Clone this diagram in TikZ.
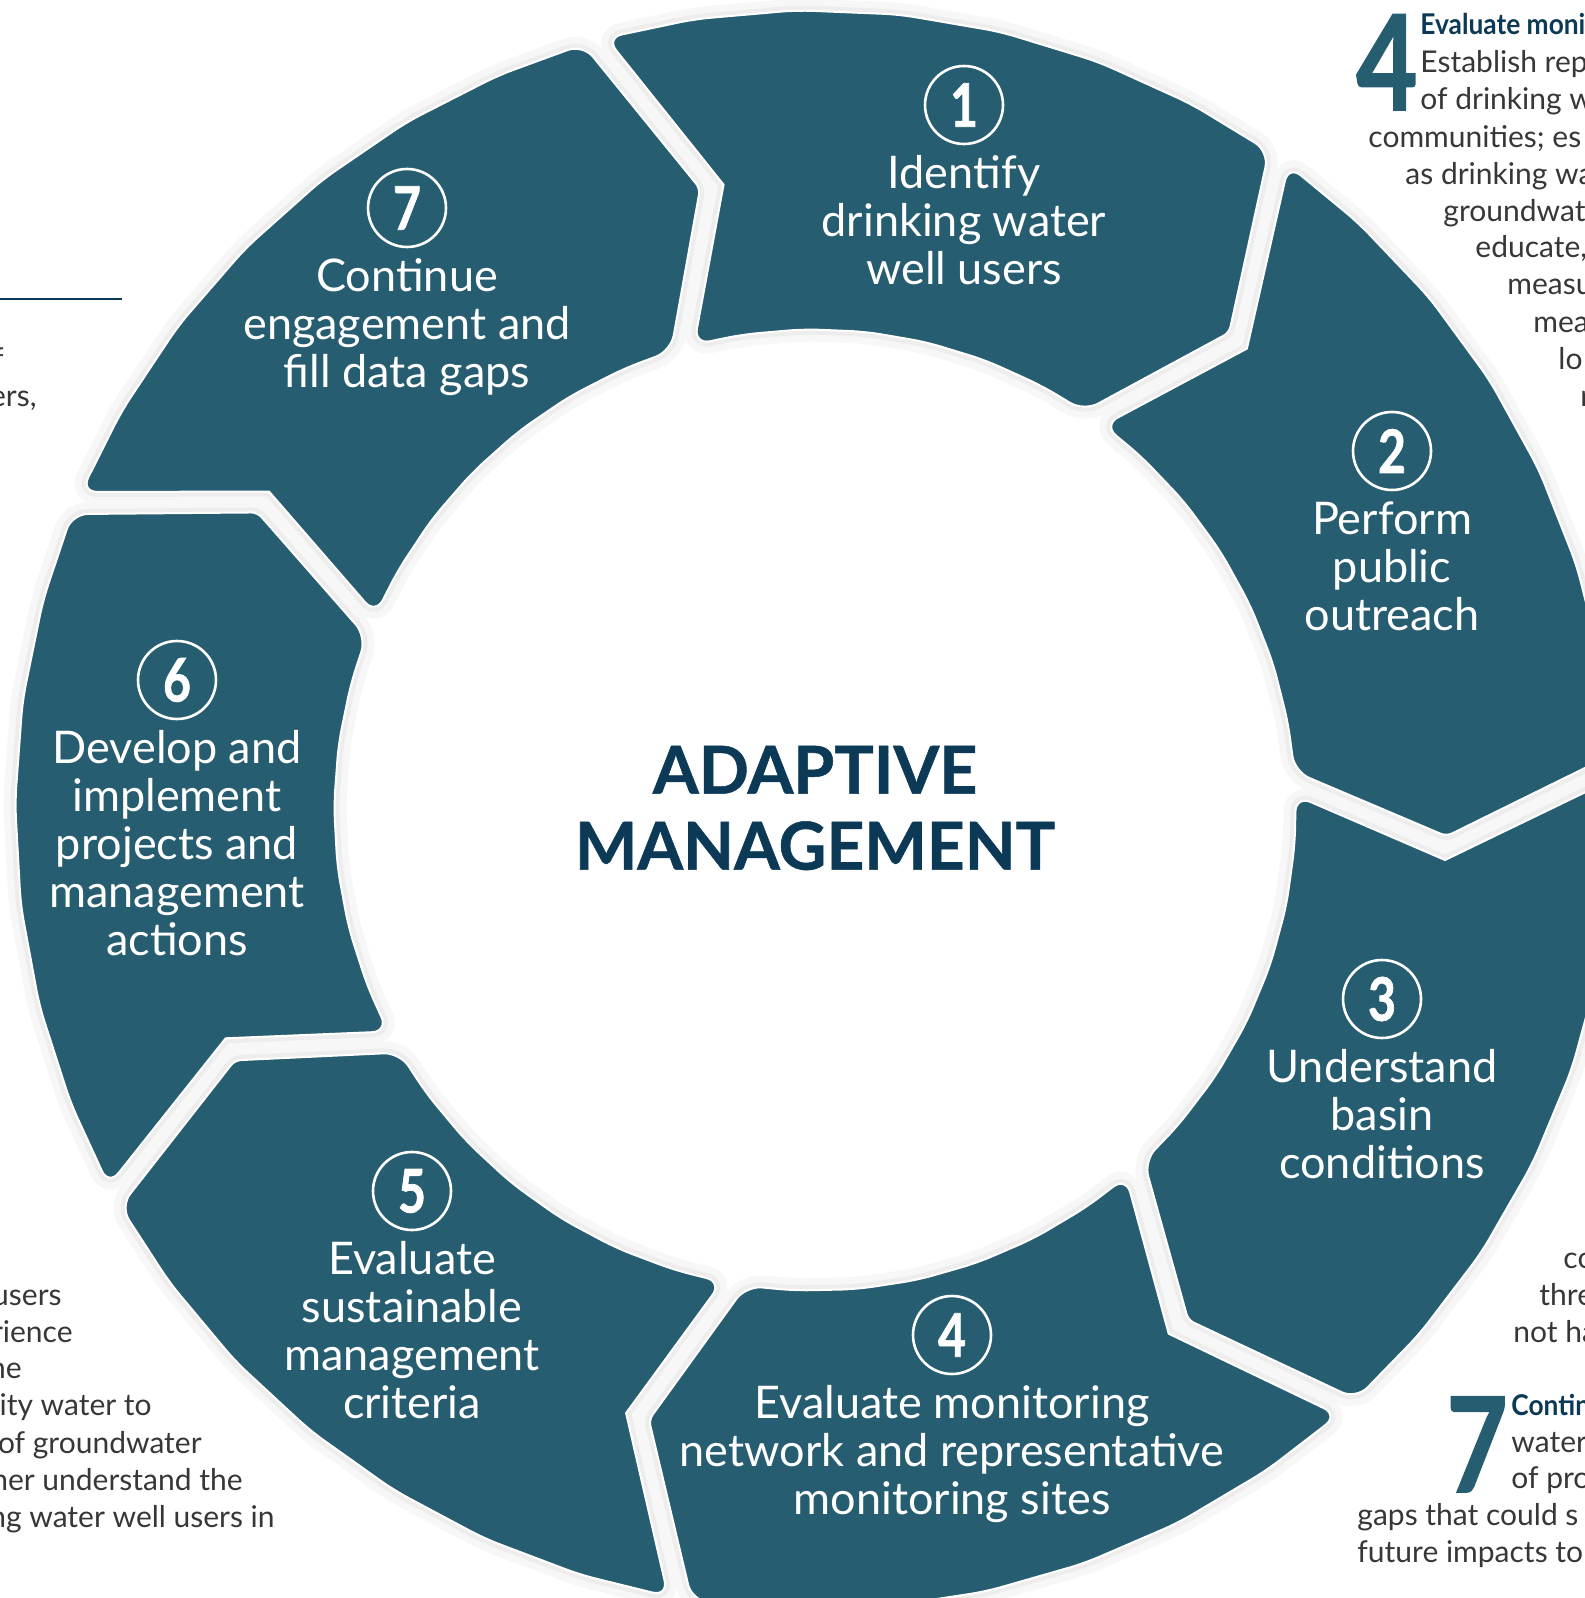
\documentclass[tikz,border=0pt]{standalone}
\usepackage{fontspec}
\setmainfont{Lato}
\newfontfamily\condfont[FakeStretch=0.8, BoldFeatures={FakeBold=1.2}]{Lato}
\newfontfamily\leadfont[FakeStretch=0.92]{Lato}
\newfontfamily\titlefont[BoldFeatures={FakeBold=0.8}]{Lato}
\usepackage{tikz}
\usetikzlibrary{positioning}
\definecolor{segteal}{RGB}{38,93,112}
\definecolor{titlenavy}{RGB}{12,58,86}
\definecolor{bodygray}{RGB}{55,55,55}
\tikzset{
    seg/.style = {fill=segteal, draw=white, line width=1pt, line join=round,
        preaction={draw=black!3, line width=12pt}, preaction={draw=black!7, line width=5pt}},
    numc/.style = {circle, draw=white, line width=1.3pt, minimum size=39pt, inner sep=0pt, text=white,
        font=\condfont\bfseries\fontsize{30pt}{30pt}\selectfont},
    stext/.style = {align=center, inner sep=0pt, text=white, font=\fontsize{22.5pt}{24pt}\selectfont},
    titletext/.style = {align=center, inner sep=0pt, text=titlenavy, font=\titlefont\bfseries\fontsize{33pt}{38pt}\selectfont},
    bigno/.style = {anchor=base, inner sep=0pt, text=segteal, font=\condfont\bfseries\fontsize{66pt}{66pt}\selectfont},
    lead/.style = {anchor=base west, inner sep=0pt, text=titlenavy, font=\leadfont\bfseries\fontsize{14.3pt}{18pt}\selectfont},
    bodyl/.style = {anchor=base west, inner sep=0pt, text=bodygray, font=\fontsize{15pt}{18pt}\selectfont},
    bodyr/.style = {bodyl, anchor=base east},
    leftrule/.style = {draw=titlenavy, line width=1pt}
}
\def\rOut{800}
\def\rIn{481}
\def\rMid{632}
\def\tipAng{6.6}
\def\segAng{51.4286}
% half the gap, as angles at the three radii
\def\gapOut{0.86}
\def\gapMid{1.08}
\def\gapIn{1.43}
% one step of the ring, #1 = start angle
\newcommand{\ringseg}[1]{%
  \pgfmathsetmacro{\segEnd}{#1+\segAng}
  \path[seg] ({#1+\gapOut}:\rOut)
    [sharp corners] -- ({#1+\tipAng+\gapMid}:\rMid)
    [rounded corners=8pt] -- ({#1+\gapIn}:\rIn)
    \foreach \j in {1,...,6} { -- ({#1+\j*\segAng/7}:\rIn) }
    -- ({\segEnd-\gapIn}:\rIn)
    [rounded corners=3pt] -- ({\segEnd+\tipAng-\gapMid}:\rMid)
    [rounded corners=8pt] -- ({\segEnd-\gapOut}:\rOut)
    \foreach \j in {6,...,1} { -- ({#1+\j*\segAng/7}:\rOut) }
    -- cycle;}
\begin{document}
\begin{tikzpicture}[x=0.5pt, y=-0.5pt]
\useasboundingbox (0,0) rectangle (1584,1598);

% ring
\begin{scope}[shift={(815,810)}]
\foreach \k in {0,...,6} {
    \pgfmathsetmacro{\segStart}{-106+\k*\segAng}
    \ringseg{\segStart}
}
\end{scope}

% steps
\node[numc] (n1) at (964,105) {1};
\node[stext, below=5pt of n1] (s1) {Identify\\drinking water\\well users};
\node[numc] (n2) at (1392,451) {2};
\node[stext, below=5pt of n2] (s2) {Perform\\public\\outreach};
\node[numc] (n3) at (1382,999) {3};
\node[stext, below=5pt of n3] (s3) {Understand\\basin\\conditions};
\node[numc] (n4) at (952,1335) {4};
\node[stext, below=5pt of n4] (s4) {Evaluate monitoring\\network and representative\\monitoring sites};
\node[numc] (n5) at (412,1191) {5};
\node[stext, below=5pt of n5] (s5) {Evaluate\\sustainable\\management\\criteria};
\node[numc] (n6) at (177,680) {6};
\node[stext, below=5pt of n6] (s6) {Develop and\\implement\\projects and\\management\\actions};
\node[numc] (n7) at (407,208) {7};
\node[stext, below=5pt of n7] (s7) {Continue\\engagement and\\fill data gaps};

\node[titletext] (title) at (815,808) {ADAPTIVE\\MANAGEMENT};

% text cut off at the edges
\node[bigno] (big4) at (1387,110) {4};
\node[lead] (lead4) at (1420,35) {Evaluate moni};
\foreach \y/\x/\txt [count=\i] in {73/1420/{Establish rep}, 110/1420/{of drinking w},
    148/1368/{communities; es}, 185/1405/{as drinking wa}, 222/1443/{groundwat},
    258/1475/{educate,}, 295/1507/{measu}, 333/1533/{mea}, 370/1558/{lo}, 407/1580/{r},
    1268/1563/{co}, 1305/1539/{thre}, 1342/1513/{not ha},
    1452/1511/{water}, 1488/1511/{of pro}, 1525/1357/{gaps that could s}, 1562/1357/{future impacts to}}
    \node[bodyl] (rt\i) at (\x,\y) {\txt};
\node[bigno] (big7) at (1477,1492) {7};
\node[lead] (lead7) at (1511,1415) {Contin};

\foreach \y/\x/\txt [count=\i] in {370/4/{f}, 407/37/{ers,},
    1305/62/{users}, 1342/73/{rience}, 1378/22/{ne}, 1415/152/{lity water to},
    1453/202/{of groundwater}, 1490/243/{her understand the}, 1527/275/{ng water well users in}}
    \node[bodyr] (lt\i) at (\x,\y) {\txt};

\coordinate (rulea) at (0,299);
\coordinate (ruleb) at (122,299);
\draw[leftrule] (rulea) -- (ruleb);
\end{tikzpicture}
\end{document}
